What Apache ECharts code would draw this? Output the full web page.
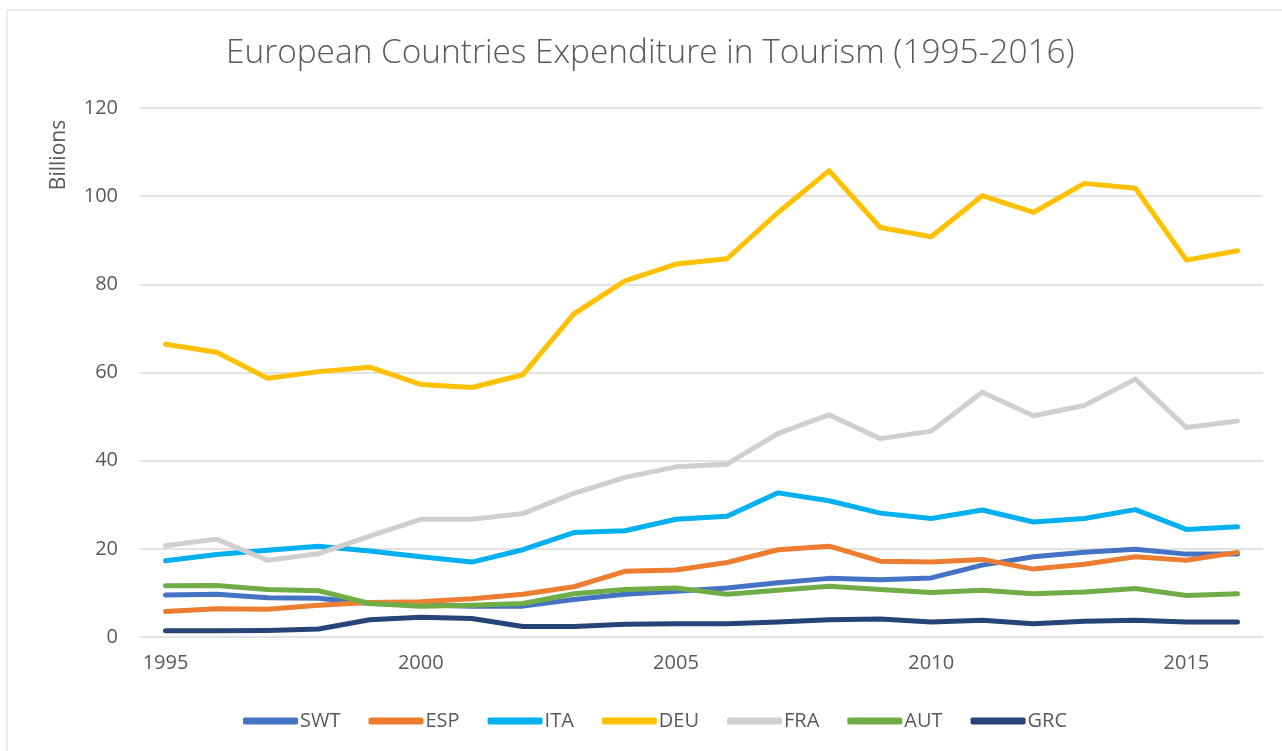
<!DOCTYPE html>
<html>
<head>
    <meta charset="utf-8" />
    <title>European Countries Expenditure in Tourism</title>
    <script type="text/javascript" src="https://cdn.jsdelivr.net/npm/echarts@6/dist/echarts.min.js"></script>
    <style>
        html, body { margin: 0; padding: 0; background: #fff; }
        #main { width: 1282px; height: 751px; }
    </style>
</head>
<body>
    <div id="main"></div>
    <script type="text/javascript">
        var years = ['1995', '1996', '1997', '1998', '1999', '2000', '2001', '2002', '2003', '2004', '2005',
            '2006', '2007', '2008', '2009', '2010', '2011', '2012', '2013', '2014', '2015', '2016'];
        var swt = [9.5, 9.7, 8.9, 8.8, 7.6, 7.3, 7.0, 7.0, 8.5, 9.7, 10.4, 11.1, 12.3, 13.3, 13.0, 13.4, 16.3, 18.2, 19.2, 19.9, 18.8, 18.8];
        var esp = [5.8, 6.4, 6.3, 7.2, 7.8, 8.0, 8.7, 9.7, 11.4, 14.9, 15.2, 16.9, 19.8, 20.6, 17.2, 17.0, 17.6, 15.4, 16.5, 18.2, 17.4, 19.2];
        var ita = [17.3, 18.7, 19.7, 20.6, 19.5, 18.2, 17.0, 19.8, 23.7, 24.1, 26.7, 27.4, 32.7, 30.9, 28.1, 26.9, 28.8, 26.1, 26.9, 28.9, 24.4, 25.0];
        var deu = [66.4, 64.6, 58.7, 60.2, 61.2, 57.3, 56.6, 59.5, 73.3, 80.8, 84.6, 85.8, 96.3, 105.8, 92.9, 90.8, 100.1, 96.3, 102.9, 101.8, 85.5, 87.6];
        var fra = [20.7, 22.2, 17.4, 18.9, 22.9, 26.7, 26.7, 28.0, 32.6, 36.2, 38.6, 39.2, 46.2, 50.4, 45.0, 46.7, 55.5, 50.2, 52.5, 58.5, 47.5, 49.0];
        var aut = [11.6, 11.7, 10.8, 10.5, 7.6, 7.0, 7.2, 7.6, 9.8, 10.8, 11.1, 9.7, 10.6, 11.5, 10.8, 10.1, 10.6, 9.8, 10.2, 11.0, 9.4, 9.8];
        var grc = [1.4, 1.4, 1.5, 1.8, 3.9, 4.5, 4.2, 2.4, 2.4, 2.9, 3.0, 3.0, 3.4, 3.9, 4.1, 3.4, 3.8, 3.0, 3.6, 3.8, 3.4, 3.4];

        var names = ['SWT', 'ESP', 'ITA', 'DEU', 'FRA', 'AUT', 'GRC'];
        var values = [swt, esp, ita, deu, fra, aut, grc];
        var colors = ['#4472c4', '#ed7d31', '#00b0f0', '#ffc000', '#d0cece', '#70ad47', '#264478'];

        var txt = '#595959';
        var font = 'Open Sans';

        var series = [];
        for (var i = 0; i < names.length; i++) {
            series.push({
                name: names[i],
                type: 'line',
                data: values[i],
                symbol: 'none',
                smooth: false,
                lineStyle: { width: 5, cap: 'round', join: 'round' }
            });
        }

        var myChart = echarts.init(document.getElementById('main'));
        var option = {
            color: colors,
            backgroundColor: '#fff',
            animation: false,
            title: {
                text: 'European Countries Expenditure in Tourism (1995-2016)',
                left: 221,
                top: 32,
                textStyle: { color: txt, fontSize: 33.4, fontWeight: 300, fontFamily: font }
            },
            graphic: [{
                type: 'rect',
                shape: { x: 7, y: 10, width: 1300, height: 800 },
                style: { fill: 'none', stroke: '#d9d9d9', lineWidth: 1 },
                silent: true
            }, {
                type: 'text',
                x: 59,
                y: 155,
                rotation: Math.PI / 2,
                style: { text: 'Billions', fill: txt, fontSize: 21, fontFamily: font, align: 'center', verticalAlign: 'middle' }
            }],
            legend: {
                bottom: 15,
                left: 238,
                icon: 'roundRect',
                itemWidth: 55,
                itemHeight: 7,
                itemGap: 28,
                textStyle: { color: txt, fontSize: 20, fontFamily: font, padding: [0, 0, 0, -3] },
                data: names
            },
            grid: {
                left: 140,
                right: 19,
                top: 108,
                bottom: 114
            },
            xAxis: {
                type: 'category',
                data: years,
                boundaryGap: true,
                axisLine: { show: false },
                axisTick: { show: false },
                axisLabel: { interval: 4, color: txt, fontSize: 20, fontFamily: font, margin: 16 }
            },
            yAxis: {
                type: 'value',
                min: 0,
                max: 120,
                interval: 20,
                axisLine: { show: false },
                axisTick: { show: false },
                axisLabel: { color: txt, fontSize: 20, fontFamily: font, margin: 22 },
                splitLine: { lineStyle: { color: '#d9d9d9', width: 1.5 } }
            },
            series: series
        };
        option && myChart.setOption(option);
    </script>
</body>
</html>
